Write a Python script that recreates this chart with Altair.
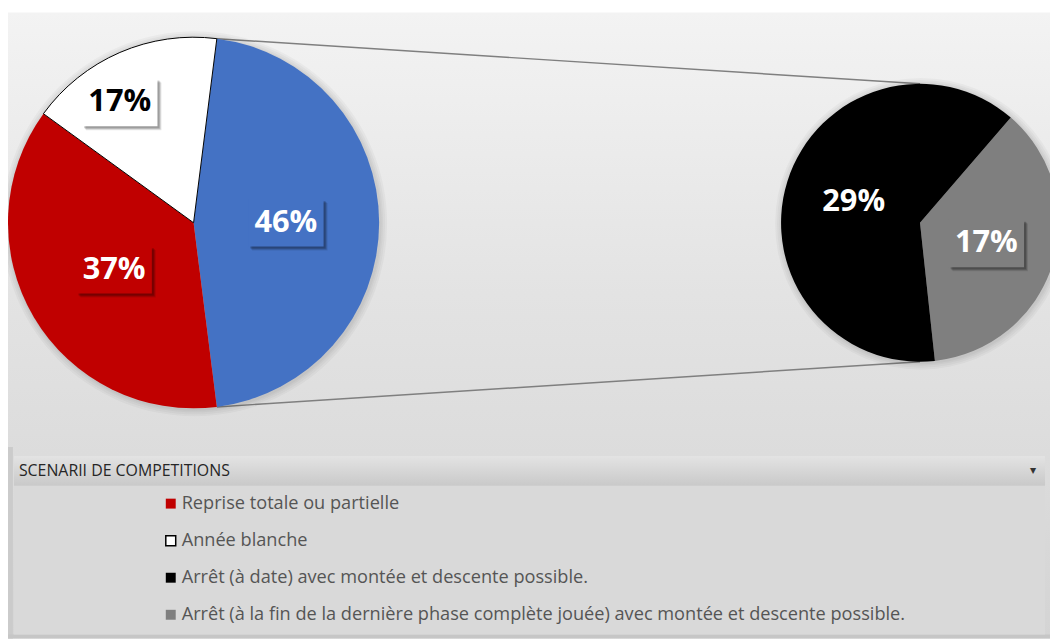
import math
import altair as alt
import pandas as pd

# ---------------- data ----------------
main_categories = ["Autre", "Reprise totale ou partielle", "Année blanche"]
main_values = [46, 37, 17]

second_categories = [
    "Arrêt (à la fin de la dernière phase complète jouée) avec montée et descente possible.",
    "Arrêt (à date) avec montée et descente possible.",
]
second_values = [17, 29]

legend_categories = [
    "Reprise totale ou partielle",
    "Année blanche",
    "Arrêt (à date) avec montée et descente possible.",
    "Arrêt (à la fin de la dernière phase complète jouée) avec montée et descente possible.",
]
legend_title = "SCENARII DE COMPETITIONS"

color_domain = ["Autre"] + legend_categories
color_range = ["#4472C4", "#C00000", "#FFFFFF", "#000000", "#7F7F7F"]

# ---------------- layout ----------------
W, H = 1050, 633
CX1, CY1, R1 = 187, 214, 187
CX2, CY2, R2 = 919, 214, 140
TAU = 2 * math.pi
other_share = main_values[0] / sum(main_values)
START1 = math.pi / 2 - other_share * math.pi          # "other" slice centred towards the right
START2 = math.radians(40.8)
BOX_W, BOX_H = 76, 48

FONT = "Open Sans"

df1 = pd.DataFrame({
    "cat": main_categories,
    "value": main_values,
    "ord": list(range(len(main_values))),
})
df1["label"] = df1["value"].astype(str) + "%"

df2 = pd.DataFrame({
    "cat": second_categories,
    "value": second_values,
    "ord": list(range(len(second_values))),
})
df2["label"] = df2["value"].astype(str) + "%"

leg_df = pd.DataFrame({"cat": legend_categories})

color_scale = alt.Scale(domain=color_domain, range=color_range)
one = alt.Data(values=[{}])

# ---------------- background ----------------
bg = alt.Chart(one).mark_rect(
    color=alt.LinearGradient(
        gradient="linear",
        stops=[alt.GradientStop(color="#f3f3f3", offset=0),
               alt.GradientStop(color="#e3e3e3", offset=0.45),
               alt.GradientStop(color="#d4d4d4", offset=1)],
        x1=0, x2=0, y1=0, y2=1,
    )
).encode(x=alt.value(0), x2=alt.value(W), y=alt.value(2), y2=alt.value(H))

left_strip = alt.Chart(one).mark_rect(color="#cbcbcb").encode(
    x=alt.value(-1), x2=alt.value(5), y=alt.value(440), y2=alt.value(H))
bottom_strip = alt.Chart(one).mark_rect(color="#c6c6c6").encode(
    x=alt.value(0), x2=alt.value(W), y=alt.value(629), y2=alt.value(H))

panel = alt.Chart(one).mark_rect(color="#d9d9d9").encode(
    x=alt.value(6), x2=alt.value(1045), y=alt.value(479), y2=alt.value(629))

header = alt.Chart(one).mark_rect(
    color=alt.LinearGradient(
        gradient="linear",
        stops=[alt.GradientStop(color="#e3e3e3", offset=0),
               alt.GradientStop(color="#c9c9c9", offset=1)],
        x1=0, x2=0, y1=0, y2=1,
    )
).encode(x=alt.value(6), x2=alt.value(1045), y=alt.value(449), y2=alt.value(479))

header_text = alt.Chart(one).mark_text(
    text=legend_title, font=FONT, fontSize=16, color="#262626",
    align="left", baseline="middle"
).encode(x=alt.value(11), y=alt.value(464))

arrow = alt.Chart(one).mark_text(
    text="▼", font="DejaVu Sans", fontSize=8, color="#333333",
    align="center", baseline="middle"
).encode(x=alt.value(1033), y=alt.value(464))

# ---------------- shadows ----------------
def shadow(cx, cy, r):
    layers = []
    for k in (7, 5, 3, 1.5):
        layers.append(
            alt.Chart(one).mark_arc(theta=0, theta2=TAU, outerRadius=r + k,
                                    color="black", opacity=0.03)
            .encode(x=alt.value(cx + 1), y=alt.value(cy + 1))
        )
    return layers

# ---------------- connectors ----------------
a_top = START1
a_bot = START1 + other_share * TAU
conn = []
for a, ey in ((a_top, CY2 - R2), (a_bot, CY2 + R2)):
    conn.append(
        alt.Chart(one).mark_rule(color="#7f7f7f", strokeWidth=1.5).encode(
            x=alt.value(CX1 + R1 * math.sin(a)), y=alt.value(CY1 - R1 * math.cos(a)),
            x2=alt.value(CX2), y2=alt.value(ey))
    )


# ---------------- label boxes (Excel style, with drop shadow) ----------------
def label_boxes(df, cx, cy, start, r_expr, dx_expr, dy_expr):
    base = alt.Chart(df).transform_joinaggregate(
        total="sum(value)"
    ).transform_window(
        cum="sum(value)", sort=[alt.SortField("ord")], frame=[None, 0]
    ).transform_calculate(
        ang=f"{start} + 2*PI*(datum.cum - datum.value/2)/datum.total",
        rr=r_expr, ddx=dx_expr, ddy=dy_expr,
    ).transform_calculate(
        px=f"{cx} + datum.rr*sin(datum.ang) + datum.ddx",
        py=f"{cy} - datum.rr*cos(datum.ang) + datum.ddy",
    ).transform_calculate(
        x0=f"datum.px - {BOX_W / 2}", x1=f"datum.px + {BOX_W / 2}",
        y0=f"datum.py - {BOX_H / 2}", y1=f"datum.py + {BOX_H / 2}",
    )
    layers = []
    for off, op in ((4, 0.10), (3, 0.16), (2, 0.18)):
        layers.append(base.mark_rect(color="black", opacity=op).encode(
            x=alt.X("x0:Q", scale=None), x2="x1:Q",
            y=alt.Y("y0:Q", scale=None), y2="y1:Q",
            xOffset=alt.value(0),
        ).transform_calculate(
            x0=f"datum.x0 + {off}", x1=f"datum.x1 + {off}",
            y0=f"datum.y0 + {off}", y1=f"datum.y1 + {off}",
        ))
    layers.append(base.mark_rect(opacity=1).encode(
        x=alt.X("x0:Q", scale=None), x2="x1:Q",
        y=alt.Y("y0:Q", scale=None), y2="y1:Q",
        color=alt.Color("cat:N", scale=color_scale, legend=None),
    ))
    return layers


# ---------------- main pie ----------------
theta1 = alt.Theta("value:Q", stack=True, scale=alt.Scale(range=[START1, START1 + TAU]))
is_white = alt.datum.cat == "Année blanche"

arc1 = alt.Chart(df1).mark_arc(outerRadius=R1).encode(
    theta=theta1,
    color=alt.Color("cat:N", scale=color_scale, legend=None),
    order=alt.Order("ord:Q"),
    stroke=alt.value("black"),
    strokeWidth=alt.condition(is_white, alt.value(1), alt.value(0)),
    x=alt.value(CX1), y=alt.value(CY1),
)
txt1_big = alt.Chart(df1).transform_calculate(
    t="datum.value > 20 ? datum.label : ''"
).mark_text(radius=93, font=FONT, fontSize=31, fontWeight="bold",
            color="white", align="center", baseline="middle").encode(
    theta=theta1, order=alt.Order("ord:Q"), text="t:N",
    x=alt.value(CX1), y=alt.value(CY1),
)
txt1_small = alt.Chart(df1).transform_calculate(
    t="datum.value > 20 ? '' : datum.label"
).mark_text(radius=142, dx=-18, dy=9, font=FONT, fontSize=31, fontWeight="bold",
            color="black", align="center", baseline="middle").encode(
    theta=theta1, order=alt.Order("ord:Q"), text="t:N",
    x=alt.value(CX1), y=alt.value(CY1),
)
boxes1 = label_boxes(df1, CX1, CY1, START1,
                     "datum.value > 20 ? 93 : 142",
                     "datum.value > 20 ? 0 : -18",
                     "datum.value > 20 ? 0 : 9")
pie1 = alt.layer(arc1, *boxes1, txt1_big, txt1_small)

# ---------------- secondary pie ----------------
theta2 = alt.Theta("value:Q", stack=True, scale=alt.Scale(range=[START2, START2 + TAU]))
arc2 = alt.Chart(df2).mark_arc(outerRadius=R2).encode(
    theta=theta2,
    color=alt.Color("cat:N", scale=color_scale, legend=None),
    order=alt.Order("ord:Q"),
    x=alt.value(CX2), y=alt.value(CY2),
)
txt2 = alt.Chart(df2).mark_text(radius=70, font=FONT, fontSize=31, fontWeight="bold",
                                color="white", align="center", baseline="middle").encode(
    theta=theta2, order=alt.Order("ord:Q"), text="label:N",
    x=alt.value(CX2), y=alt.value(CY2),
)
boxes2 = label_boxes(df2, CX2, CY2, START2, "70", "0", "0")
pie2 = alt.layer(arc2, *boxes2, txt2)

# ---------------- legend ----------------
ly = alt.Y("cat:N", sort=legend_categories,
           scale=alt.Scale(type="point", range=[497, 609], padding=0), axis=None)
leg_sq = alt.Chart(leg_df).mark_square(size=100, opacity=1).encode(
    x=alt.value(164), y=ly,
    color=alt.Color("cat:N", scale=color_scale, legend=None),
    stroke=alt.value("black"),
    strokeWidth=alt.condition(is_white, alt.value(1.5), alt.value(0)),
)
leg_txt = alt.Chart(leg_df).mark_text(
    font=FONT, fontSize=18.3, color="#555555", align="left", baseline="middle"
).encode(x=alt.value(175), y=ly, text="cat:N")
legend = alt.layer(leg_sq, leg_txt)

chart = alt.layer(
    bg, left_strip, bottom_strip, panel, header, header_text, arrow,
    *conn, *shadow(CX1, CY1, R1), *shadow(CX2, CY2, R2),
    pie1, pie2, legend,
).resolve_scale(theta="independent").properties(
    width=W, height=H,
    autosize=alt.AutoSizeParams(type="none"),
    padding=0, background="white",
).configure_view(stroke=None)

chart.save("out.html", embed_options={"renderer": "svg", "actions": False})
